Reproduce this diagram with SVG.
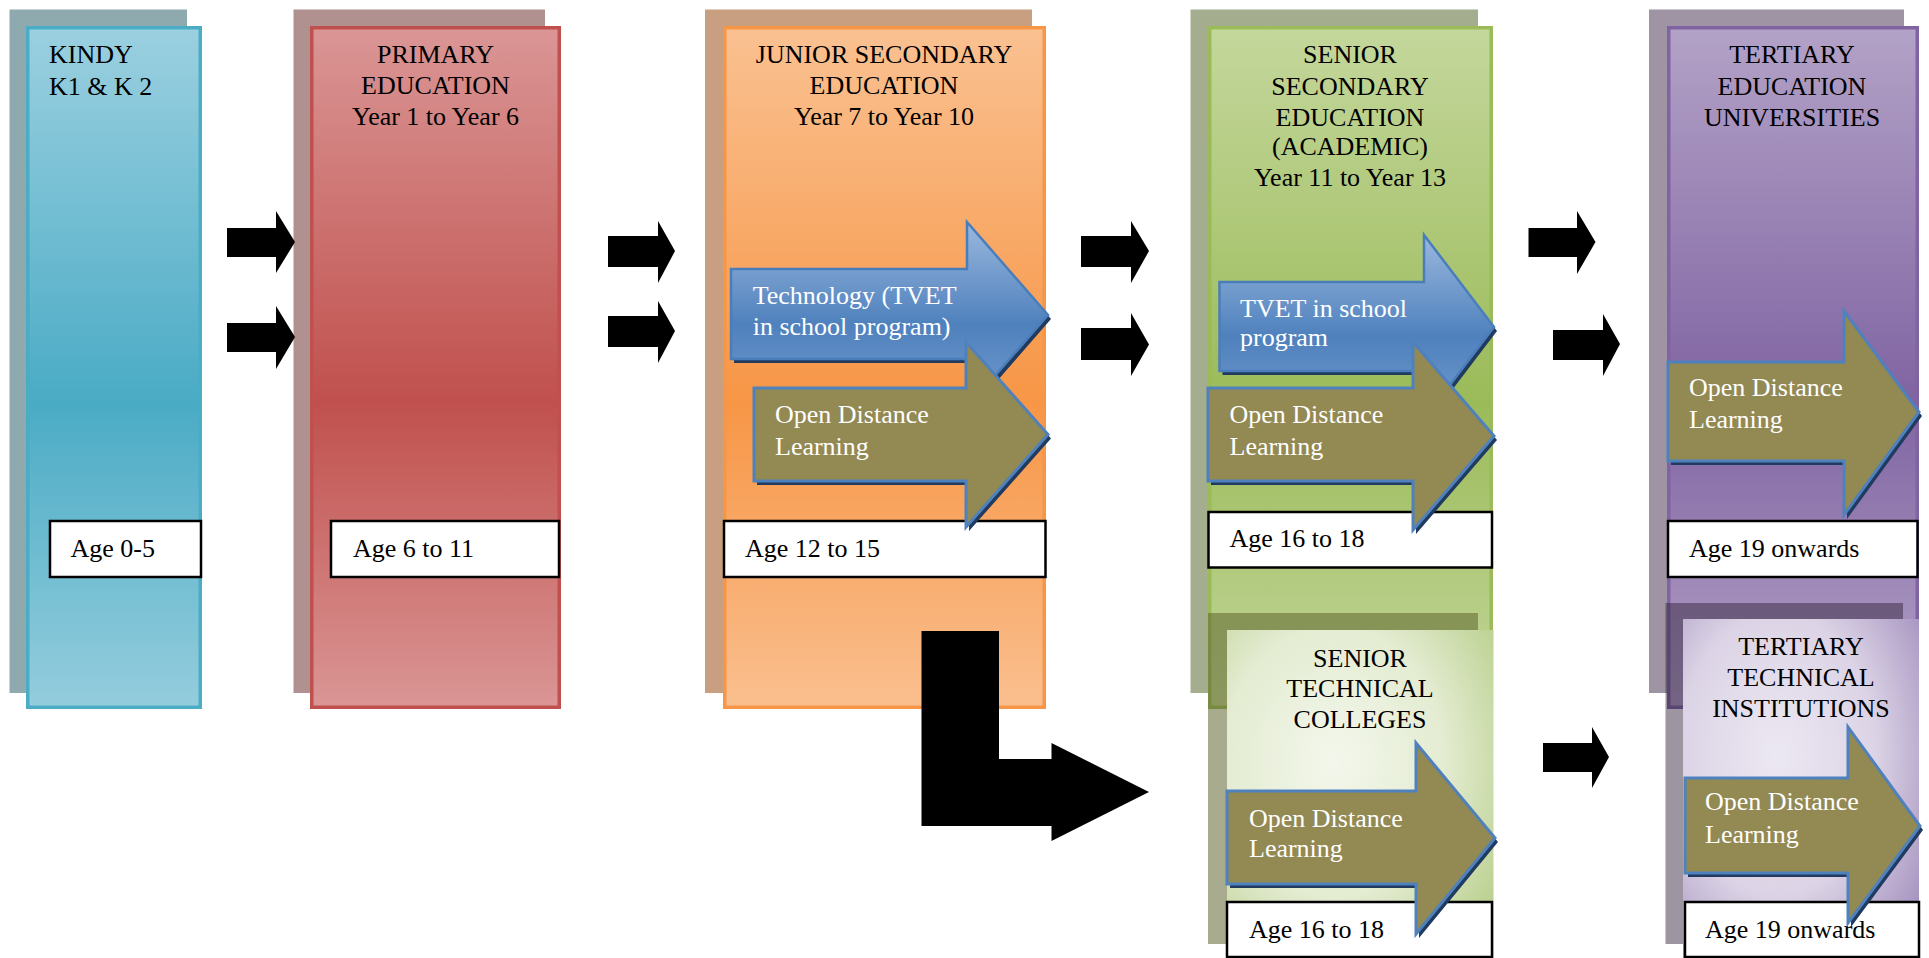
<svg xmlns="http://www.w3.org/2000/svg" width="1929" height="958" viewBox="0 0 1929 958">
<style>
text{font-family:"Liberation Serif","Times New Roman",serif;font-size:26px;fill:#000}
.c{text-anchor:middle}
.w{fill:#fff}
.age{fill:#fff;stroke:#000;stroke-width:2.5}
.odl{fill:#938953;stroke:#4f81bd;stroke-width:3;stroke-linejoin:miter}
.blue{fill:url(#gBlue);stroke:#4a7ebb;stroke-width:2.5}
.ash{fill:#203a60}
.blk{fill:#000}
</style>
<defs>
<linearGradient id="gKindy" x1="0" y1="0" x2="0" y2="1"><stop offset="0" stop-color="#9bd0e0"/><stop offset="0.55" stop-color="#4aabc5"/><stop offset="1" stop-color="#94cddd"/></linearGradient>
<linearGradient id="gPrim" x1="0" y1="0" x2="0" y2="1"><stop offset="0" stop-color="#da9695"/><stop offset="0.55" stop-color="#c0504d"/><stop offset="1" stop-color="#da9695"/></linearGradient>
<linearGradient id="gJun" x1="0" y1="0" x2="0" y2="1"><stop offset="0" stop-color="#fac191"/><stop offset="0.55" stop-color="#f79646"/><stop offset="1" stop-color="#fabf8f"/></linearGradient>
<linearGradient id="gSen" x1="0" y1="0" x2="0" y2="1"><stop offset="0" stop-color="#c4d79c"/><stop offset="0.55" stop-color="#9bbb59"/><stop offset="1" stop-color="#c3d69b"/></linearGradient>
<linearGradient id="gTer" x1="0" y1="0" x2="0" y2="1"><stop offset="0" stop-color="#b3a2c7"/><stop offset="0.55" stop-color="#8064a2"/><stop offset="1" stop-color="#b3a2c7"/></linearGradient>
<linearGradient id="gBlue" x1="0" y1="0" x2="0" y2="1"><stop offset="0" stop-color="#9ab8de"/><stop offset="0.55" stop-color="#4f81bd"/><stop offset="1" stop-color="#739bce"/></linearGradient>
<radialGradient id="gTech" cx="0.4" cy="0.4" r="0.75"><stop offset="0" stop-color="#f3f7ec"/><stop offset="0.55" stop-color="#e4ecd2"/><stop offset="1" stop-color="#b9cf8c"/></radialGradient>
<radialGradient id="gTerTech" cx="0.4" cy="0.4" r="0.75"><stop offset="0" stop-color="#ece8f2"/><stop offset="0.55" stop-color="#dcd4e6"/><stop offset="1" stop-color="#a592bf"/></radialGradient>
</defs>

<g id="kindy">
<rect x="9.5" y="9.5" width="177.5" height="683.5" fill="#8faaaf"/>
<rect x="27.75" y="27.75" width="172.5" height="679.5" fill="url(#gKindy)" stroke="#4bacc6" stroke-width="3.5"/>
<text x="49" y="63">KINDY</text>
<text x="49" y="95">K1 &amp; K 2</text>
<rect class="age" x="50" y="521" width="151" height="56"/>
<text x="70.5" y="557">Age 0-5</text>
</g>

<g id="primary">
<rect x="293.5" y="9.5" width="251.5" height="683.5" fill="#b09190"/>
<rect x="311.75" y="27.75" width="247.5" height="679.5" fill="url(#gPrim)" stroke="#c0504d" stroke-width="3.5"/>
<text class="c" x="435.5" y="63">PRIMARY</text>
<text class="c" x="435.5" y="94">EDUCATION</text>
<text class="c" x="435.5" y="125">Year 1 to Year 6</text>
<rect class="age" x="331" y="521" width="228" height="56"/>
<text x="353" y="557">Age 6 to 11</text>
</g>

<g id="junior-secondary">
<rect x="705" y="9.5" width="327" height="683.5" fill="#c8a081"/>
<rect x="724.75" y="27.75" width="319.5" height="679.5" fill="url(#gJun)" stroke="#f79646" stroke-width="3.5"/>
<text class="c" x="884" y="63">JUNIOR SECONDARY</text>
<text class="c" x="884" y="94">EDUCATION</text>
<text class="c" x="884" y="125">Year 7 to Year 10</text>
<rect class="age" x="724" y="521" width="321.5" height="56"/>
<text x="745" y="557">Age 12 to 15</text>
<path class="ash" transform="translate(3,4)" d="M731,269 L967,269 L967,222 L1048,315 L967,408 L967,359 L731,359 Z"/>
<path class="blue" d="M731,269 L967,269 L967,222 L1048,315 L967,408 L967,359 L731,359 Z"/>
<text class="w" x="752.7" y="303.5">Technology (TVET</text>
<text class="w" x="752.7" y="335">in school program)</text>
<path class="ash" transform="translate(3,4)" d="M754,388 L966,388 L966,342 L1048,434.5 L966,527 L966,481 L754,481 Z"/>
<path class="odl" d="M754,388 L966,388 L966,342 L1048,434.5 L966,527 L966,481 L754,481 Z"/>
<text class="w" x="775" y="423">Open Distance</text>
<text class="w" x="775" y="455">Learning</text>
</g>

<g id="senior-secondary">
<rect x="1190.5" y="9.5" width="287.5" height="683.5" fill="#a5ad8f"/>
<rect x="1209.75" y="27.75" width="281.5" height="679.5" fill="url(#gSen)" stroke="#9bbb59" stroke-width="3.5"/>
<text class="c" x="1350" y="63">SENIOR</text>
<text class="c" x="1350" y="94.5">SECONDARY</text>
<text class="c" x="1350" y="125.5">EDUCATION</text>
<text class="c" x="1350" y="155">(ACADEMIC)</text>
<text class="c" x="1350" y="186">Year 11 to Year 13</text>
<rect class="age" x="1208.5" y="512" width="283.5" height="55.5"/>
<text x="1229.5" y="546.5">Age 16 to 18</text>
<path class="ash" transform="translate(3,4)" d="M1219.5,282 L1424,282 L1424,235 L1494,327 L1424,419 L1424,371 L1219.5,371 Z"/>
<path class="blue" d="M1219.5,282 L1424,282 L1424,235 L1494,327 L1424,419 L1424,371 L1219.5,371 Z"/>
<text class="w" x="1240" y="317">TVET in school</text>
<text class="w" x="1240" y="346">program</text>
<path class="ash" transform="translate(3,4)" d="M1208,388 L1413,388 L1413,342 L1494,436 L1413,530 L1413,481 L1208,481 Z"/>
<path class="odl" d="M1208,388 L1413,388 L1413,342 L1494,436 L1413,530 L1413,481 L1208,481 Z"/>
<text class="w" x="1229.5" y="423">Open Distance</text>
<text class="w" x="1229.5" y="455">Learning</text>
</g>

<g id="tertiary">
<rect x="1649" y="9.5" width="255" height="683.5" fill="#9e94a3"/>
<rect x="1668.75" y="27.75" width="248.5" height="679.5" fill="url(#gTer)" stroke="#8064a2" stroke-width="3.5"/>
<text class="c" x="1792" y="63">TERTIARY</text>
<text class="c" x="1792" y="94.5">EDUCATION</text>
<text class="c" x="1792" y="125.5">UNIVERSITIES</text>
<rect class="age" x="1668" y="521" width="249.5" height="56"/>
<text x="1689" y="557">Age 19 onwards</text>
<path class="ash" transform="translate(3,4)" d="M1668,362 L1844,362 L1844,311 L1919,412 L1844,515 L1844,461 L1668,461 Z"/>
<path class="odl" d="M1668,362 L1844,362 L1844,311 L1919,412 L1844,515 L1844,461 L1668,461 Z"/>
<text class="w" x="1689" y="396">Open Distance</text>
<text class="w" x="1689" y="428">Learning</text>
</g>

<g id="senior-technical">
<rect x="1208" y="613" width="270" height="331" fill="#5b602a" fill-opacity="0.53"/>
<rect x="1227" y="630" width="266.5" height="328" fill="url(#gTech)"/>
<text class="c" x="1360" y="667">SENIOR</text>
<text class="c" x="1360" y="697">TECHNICAL</text>
<text class="c" x="1360" y="728">COLLEGES</text>
<rect class="age" x="1227" y="902" width="265" height="55"/>
<text x="1249" y="938">Age 16 to 18</text>
<path class="ash" transform="translate(3,4)" d="M1227,791 L1416,791 L1416,743 L1495,838 L1416,934 L1416,884 L1227,884 Z"/>
<path class="odl" d="M1227,791 L1416,791 L1416,743 L1495,838 L1416,934 L1416,884 L1227,884 Z"/>
<text class="w" x="1249" y="827">Open Distance</text>
<text class="w" x="1249" y="857">Learning</text>
</g>

<g id="tertiary-technical">
<rect x="1665.5" y="603" width="237.5" height="341" fill="#2e2037" fill-opacity="0.47"/>
<rect x="1683" y="619" width="236" height="339" fill="url(#gTerTech)"/>
<text class="c" x="1801" y="655">TERTIARY</text>
<text class="c" x="1801" y="686">TECHNICAL</text>
<text class="c" x="1801" y="717">INSTITUTIONS</text>
<rect class="age" x="1685" y="902" width="234" height="55"/>
<text x="1705" y="938">Age 19 onwards</text>
<path class="ash" transform="translate(3,4)" d="M1685,778 L1848,778 L1848,727 L1920,826 L1848,923 L1848,873 L1685,873 Z"/>
<path class="odl" d="M1685,778 L1848,778 L1848,727 L1920,826 L1848,923 L1848,873 L1685,873 Z"/>
<text class="w" x="1705" y="810">Open Distance</text>
<text class="w" x="1705" y="843">Learning</text>
</g>

<g id="connectors">
<path class="blk" d="M227,228 L276,228 L276,211 L295,242 L276,273 L276,257 L227,257 Z"/>
<path class="blk" d="M227,323 L276,323 L276,306 L295,337 L276,369 L276,352 L227,352 Z"/>
<path class="blk" d="M608,236 L658,236 L658,221 L675,251 L658,283 L658,267 L608,267 Z"/>
<path class="blk" d="M608,316 L658,316 L658,301 L675,331 L658,363 L658,347 L608,347 Z"/>
<path class="blk" d="M1081,236 L1131,236 L1131,221 L1149,251 L1131,283 L1131,267 L1081,267 Z"/>
<path class="blk" d="M1081,328 L1131,328 L1131,313 L1149,344.5 L1131,376 L1131,360 L1081,360 Z"/>
<path class="blk" d="M1528.5,228 L1577,228 L1577,211 L1595.5,242 L1577,274 L1577,257 L1528.5,257 Z"/>
<path class="blk" d="M1553,330 L1603,330 L1603,314 L1620,344 L1603,376 L1603,360 L1553,360 Z"/>
<path class="blk" d="M1543,743 L1592,743 L1592,727 L1609,757 L1592,788 L1592,772 L1543,772 Z"/>
<path class="blk" d="M921.5,631 L999,631 L999,759 L1051.5,759 L1051.5,743 L1149,792 L1051.5,841 L1051.5,826 L921.5,826 Z"/>
</g>
</svg>
